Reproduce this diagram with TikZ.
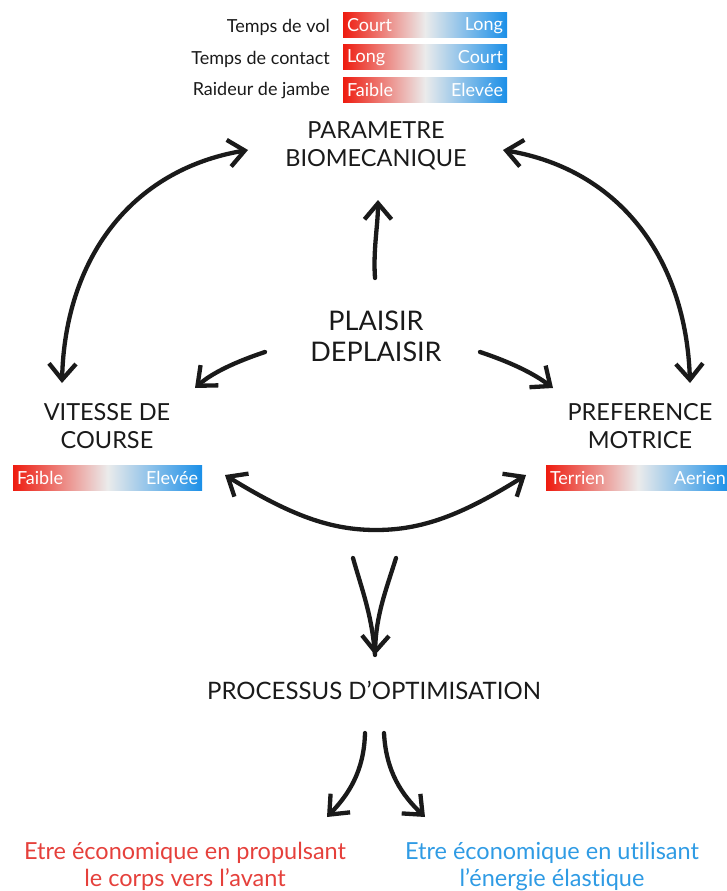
\documentclass[tikz,border=0pt]{standalone}
\usepackage{fontspec}
\setmainfont{Lato}[Ligatures=NoCommon]
\usetikzlibrary{arrows.meta}
\definecolor{bred}{HTML}{EE1B0F}
\definecolor{bblue}{HTML}{1A8FE8}
\definecolor{bmid}{HTML}{EBEBEB}
\definecolor{tred}{HTML}{E5403B}
\definecolor{tblue}{HTML}{2F9BE4}
\definecolor{ink}{HTML}{1A1A1A}
\begin{document}
\begin{tikzpicture}[x=1pt,y=-1pt,
  arr/.style={draw=ink,line width=4.3pt,line cap=round,line join=round},
  tipend/.style={-{Straight Barb[length=16pt,width=27pt]}},
  tipboth/.style={{Straight Barb[length=16pt,width=27pt]}-{Straight Barb[length=16pt,width=27pt]}},
  gbar/.style={minimum height=25pt,inner sep=0pt,left color=bred,right color=bblue,middle color=bmid,draw=none},
  bartxt/.style={text=white,font=\fontsize{18}{20}\selectfont,inner sep=4pt},
  lab/.style={text=ink,font=\fontsize{18}{20}\selectfont,anchor=east,inner sep=0pt},
  big/.style={text=ink,align=center,font=\fontsize{23.5}{28}\selectfont,inner sep=0pt},
  bigger/.style={text=ink,align=center,font=\fontsize{27}{31}\selectfont,inner sep=0pt},
  outc/.style={align=center,font=\fontsize{23.5}{27}\selectfont,inner sep=0pt}]
\useasboundingbox (0,0) rectangle (727,891);
\begin{scope}
\clip (0,0) rectangle (727,891);
% top bars
\node[gbar,minimum width=164pt] (b1) at (425,25.5) {};
\node[bartxt,anchor=west] (b1l) at (b1.west) {Court};
\node[bartxt,anchor=east] (b1r) at (b1.east) {Long};
\node[lab] (l1) at (330,27) {Temps de vol};
\node[gbar,minimum width=164pt] (b2) at (425,57.5) {};
\node[bartxt,anchor=west] (b2l) at (b2.west) {Long};
\node[bartxt,anchor=east] (b2r) at (b2.east) {Court};
\node[lab] (l2) at (330,59) {Temps de contact};
\node[gbar,minimum width=164pt] (b3) at (425,89.5) {};
\node[bartxt,anchor=west] (b3l) at (b3.west) {Faible};
\node[bartxt,anchor=east] (b3r) at (b3.east) {Elevée};
\node[lab] (l3) at (330,91) {Raideur de jambe};
% side bars
\node[gbar,minimum width=189pt] (bl) at (107.5,477.5) {};
\node[bartxt,anchor=west] (bll) at (bl.west) {Faible};
\node[bartxt,anchor=east] (blr) at (bl.east) {Elevée};
\node[gbar,minimum width=184pt] (br) at (638,477.5) {};
\node[bartxt,anchor=west] (brl) at (br.west) {Terrien};
\node[bartxt,anchor=east] (brr) at (br.east) {Aerien};
\end{scope}
% main nodes
\node[big] (param) at (376,146) {PARAMETRE\\BIOMECANIQUE};
\node[bigger] (plaisir) at (376,336) {PLAISIR\\DEPLAISIR};
\node[big] (vit) at (107,426) {VITESSE DE\\COURSE};
\node[big] (pref) at (640,426) {PREFERENCE\\MOTRICE};
\node[big,font=\fontsize{24}{28}\selectfont] (proc) at (374,690) {PROCESSUS D’OPTIMISATION};
\node[outc,text=tred] (eco1) at (185,866) {Etre économique en propulsant\\le corps vers l’avant};
\node[outc,text=tblue] (eco2) at (552,866) {Etre économique en utilisant\\l’énergie élastique};
% arrow ends
\coordinate (a1s) at (62,383);
\coordinate (a1e) at (248,150);
\coordinate (a2s) at (503,150);
\coordinate (a2e) at (690,383);
\coordinate (upS) at (375,278);
\coordinate (upE) at (378,200);
\coordinate (lS) at (265,352);
\coordinate (lE) at (195,388);
\coordinate (rS) at (480,352);
\coordinate (rE) at (553,388);
\coordinate (bL) at (225,475);
\coordinate (bM) at (376,530);
\coordinate (bR) at (526,475);
\coordinate (cL) at (353,558);
\coordinate (cR) at (396,558);
\coordinate (cE) at (375,655);
\coordinate (dS1) at (365,733);
\coordinate (dE1) at (327,817);
\coordinate (dS2) at (384,733);
\coordinate (dE2) at (425,817);
% arrows
\draw[arr,tipboth] (a1s) .. controls (65,260) and (130,170) .. (a1e);
\draw[arr,tipboth] (a2s) .. controls (621,170) and (686,260) .. (a2e);
\draw[arr,tipend] (upS) .. controls (373,250) and (378,225) .. (upE);
\draw[arr,tipend] (lS) .. controls (235,362) and (212,373) .. (lE);
\draw[arr,tipend] (rS) .. controls (510,362) and (533,373) .. (rE);
\draw[arr,tipboth] (bL) .. controls (290,515) and (330,530) .. (bM) .. controls (422,530) and (462,515) .. (bR);
\draw[arr] (cL) .. controls (362,590) and (372,615) .. (cE);
\draw[arr,tipend] (cR) .. controls (386,590) and (376,615) .. (cE);
\draw[arr,tipend] (dS1) .. controls (364,772) and (348,795) .. (dE1);
\draw[arr,tipend] (dS2) .. controls (386,772) and (402,795) .. (dE2);
\end{tikzpicture}
\end{document}
